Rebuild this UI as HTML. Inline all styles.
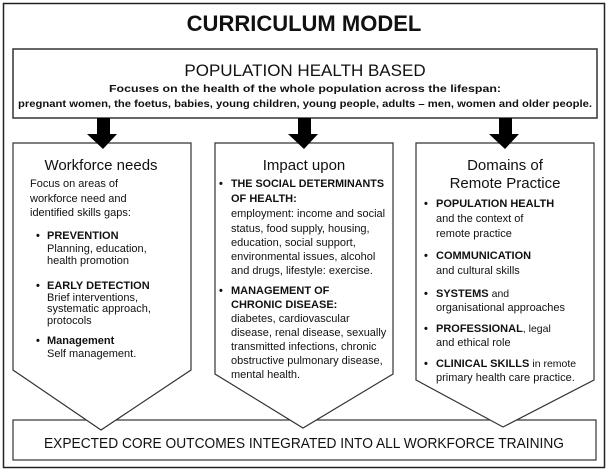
<!DOCTYPE html>
<html><head><meta charset="utf-8"><style>
html,body{margin:0;padding:0;background:#fff;}
svg{display:block;}
text{font-family:"Liberation Sans",sans-serif;fill:#111;}
.h{font-weight:bold;}
.b{font-size:11px;}
.bb{font-size:11px;font-weight:bold;}
</style></head><body>
<svg width="609" height="471" viewBox="0 0 609 471" xmlns="http://www.w3.org/2000/svg">
<rect x="3.5" y="3.5" width="601" height="464" fill="#fff" stroke="#222" stroke-width="1.5"/>
<text x="304" y="31" text-anchor="middle" class="h" font-size="22">CURRICULUM MODEL</text>
<rect x="13" y="49" width="584" height="69" fill="#fff" stroke="#333" stroke-width="1.5"/>
<text x="305" y="76" text-anchor="middle" font-size="17">POPULATION HEALTH BASED</text>
<text x="305" y="92" text-anchor="middle" font-size="10.5" font-weight="bold" textLength="392" lengthAdjust="spacingAndGlyphs">Focuses on the health of the whole population across the lifespan:</text>
<text x="305" y="107" text-anchor="middle" font-size="10.5" font-weight="bold" textLength="574" lengthAdjust="spacingAndGlyphs">pregnant women, the foetus, babies, young children, young people, adults – men, women and older people.</text>

<rect x="13" y="420" width="583" height="40" fill="#fff" stroke="#333" stroke-width="1.2"/>
<text x="304" y="448" text-anchor="middle" font-size="15" textLength="520" lengthAdjust="spacingAndGlyphs">EXPECTED CORE OUTCOMES INTEGRATED INTO ALL WORKFORCE TRAINING</text>

<polygon points="13,143 191,143 191,370 101,430 13,370" fill="#fff" stroke="#333" stroke-width="1.2"/>
<polygon points="215,143 393,143 393,374 303,428 215,374" fill="#fff" stroke="#333" stroke-width="1.2"/>
<polygon points="416,143 594,143 594,380 503,427 416,380" fill="#fff" stroke="#333" stroke-width="1.2"/>

<g fill="#000">
<polygon points="97,118 110,118 110,134 117,134 103,149 87,134 97,134"/>
<polygon points="298,118 311,118 311,134 318,134 304,149 288,134 298,134"/>
<polygon points="499,118 512,118 512,134 519,134 505,149 489,134 499,134"/>
</g>

<!-- column 1 -->
<text x="101" y="170" text-anchor="middle" font-size="15">Workforce needs</text>
<text class="b" x="30" y="187">Focus on areas of</text>
<text class="b" x="30" y="202">workforce need and</text>
<text class="b" x="30" y="216">identified skills gaps:</text>
<text class="bb" x="36" y="239">•</text><text class="bb" x="47" y="239">PREVENTION</text>
<text class="b" x="47" y="252">Planning, education,</text>
<text class="b" x="47" y="264">health promotion</text>
<text class="bb" x="36" y="289">•</text><text class="bb" x="47" y="289">EARLY DETECTION</text>
<text class="b" x="47" y="301">Brief interventions,</text>
<text class="b" x="47" y="312">systematic approach,</text>
<text class="b" x="47" y="324">protocols</text>
<text class="bb" x="36" y="344">•</text><text class="bb" x="47" y="344">Management</text>
<text class="b" x="47" y="357">Self management.</text>

<!-- column 2 -->
<text x="304" y="170" text-anchor="middle" font-size="15">Impact upon</text>
<text class="bb" x="219" y="187">•</text><text class="bb" x="231" y="187" textLength="153" lengthAdjust="spacingAndGlyphs">THE SOCIAL DETERMINANTS</text>
<text class="bb" x="231" y="202">OF HEALTH:</text>
<text class="b" x="231" y="217" font-size="10.5">employment: income and social</text>
<text class="b" x="231" y="232" font-size="10.5">status, food supply, housing,</text>
<text class="b" x="231" y="246" font-size="10.5">education, social support,</text>
<text class="b" x="231" y="260" font-size="10.5">environmental issues, alcohol</text>
<text class="b" x="231" y="274" font-size="10.5">and drugs, lifestyle: exercise.</text>
<text class="bb" x="219" y="294">•</text><text class="bb" x="231" y="294">MANAGEMENT OF</text>
<text class="bb" x="231" y="308">CHRONIC DISEASE:</text>
<text class="b" x="231" y="322" font-size="10.5">diabetes, cardiovascular</text>
<text class="b" x="231" y="336" font-size="10.5">disease, renal disease, sexually</text>
<text class="b" x="231" y="350" font-size="10.5">transmitted infections, chronic</text>
<text class="b" x="231" y="364" font-size="10.5">obstructive pulmonary disease,</text>
<text class="b" x="231" y="378" font-size="10.5">mental health.</text>

<!-- column 3 -->
<text x="505" y="170" text-anchor="middle" font-size="15">Domains of</text>
<text x="505" y="188" text-anchor="middle" font-size="15">Remote Practice</text>
<text class="bb" x="424" y="207">•</text><text class="bb" x="436" y="207">POPULATION HEALTH</text>
<text class="b" x="436" y="222" font-size="10.5">and the context of</text>
<text class="b" x="436" y="237" font-size="10.5">remote practice</text>
<text class="bb" x="424" y="259">•</text><text class="bb" x="436" y="259">COMMUNICATION</text>
<text class="b" x="436" y="274" font-size="10.5">and cultural skills</text>
<text class="bb" x="424" y="297">•</text><text class="bb" x="436" y="297">SYSTEMS <tspan font-weight="normal" font-size="10.5">and</tspan></text>
<text class="b" x="436" y="311" font-size="10.5">organisational approaches</text>
<text class="bb" x="424" y="332">•</text><text class="bb" x="436" y="332">PROFESSIONAL<tspan font-weight="normal" font-size="10.5">, legal</tspan></text>
<text class="b" x="436" y="346" font-size="10.5">and ethical role</text>
<text class="bb" x="424" y="367">•</text><text class="bb" x="436" y="367">CLINICAL SKILLS <tspan font-weight="normal" font-size="10.5">in remote</tspan></text>
<text class="b" x="436" y="381" font-size="10.5">primary health care practice.</text>
</svg>
</body></html>
